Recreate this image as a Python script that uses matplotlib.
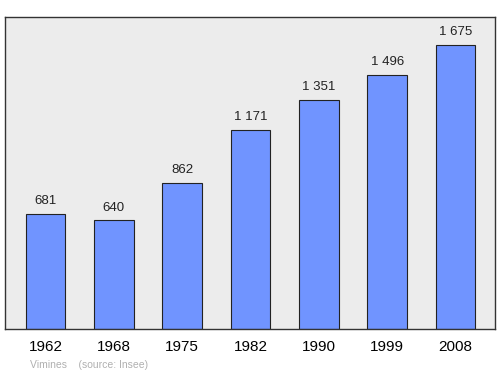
import matplotlib
import matplotlib.pyplot as plt
import numpy as np

matplotlib.use("Agg")

plt.rcParams["font.family"] = ["Liberation Sans", "DejaVu Sans"]

years = ["1962", "1968", "1975", "1982", "1990", "1999", "2008"]
population = [681, 640, 862, 1171, 1351, 1496, 1675]
value_labels = ["681", "640", "862", "1 171", "1 351", "1 496", "1 675"]

fig = plt.figure(figsize=(5.0, 3.74), dpi=100)
ax = fig.add_axes([5 / 500, 1 - 329 / 374, 490 / 500, 312 / 374])
ax.set_facecolor("#ececec")

x = np.arange(len(years))
ax.bar(x, population, width=0.578, color="#7094ff", edgecolor="#222222", linewidth=0.8, zorder=2)

for xi, val, lab in zip(x, population, value_labels):
    ax.annotate(lab, (xi, val), xytext=(0, 5), textcoords="offset points",
                ha="center", va="bottom", fontsize=9.5, color="#222222")

ax.set_xlim(-0.593, 6.578)
ax.set_ylim(0, 1840)
ax.set_yticks([])
ax.set_xticks(x)
ax.set_xticklabels(years, fontsize=11)
ax.tick_params(axis="x", length=0, pad=8)
for s in ax.spines.values():
    s.set_color("#333333")
    s.set_linewidth(1.0)

fig.text(30 / 500, 1 - 365 / 374, "Vimines    (source: Insee)", fontsize=7.5,
         color="#b0b0b0", ha="left", va="center")

fig.savefig("out.png", dpi=100)
